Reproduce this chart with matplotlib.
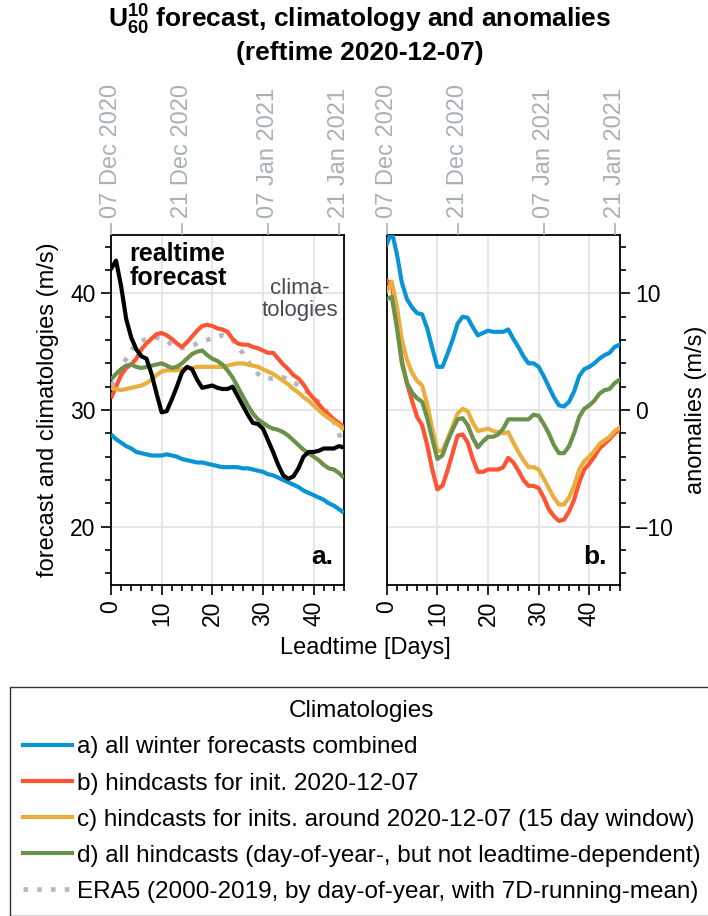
import numpy as np
import matplotlib
matplotlib.use("Agg")
import matplotlib.pyplot as plt
from matplotlib.lines import Line2D

plt.rcParams["font.family"] = ["Liberation Sans", "DejaVu Sans"]
plt.rcParams["mathtext.fontset"] = "custom"
plt.rcParams["mathtext.rm"] = "Liberation Sans"
plt.rcParams["mathtext.bf"] = "Liberation Sans:bold"

# ---- data: zonal-mean zonal wind at 60N / 10 hPa (m/s), per lead day ----
leadtime = list(range(47))

forecast = [42.1, 42.8, 40.6, 37.8, 36.2, 35.2, 34.6, 34.4, 33.1, 31.4,
            29.8, 29.9, 30.9, 32.0, 33.2, 33.7, 33.5, 32.6, 31.9, 32.0,
            32.1, 31.9, 31.8, 31.8, 32.0, 31.2, 30.4, 29.6, 28.9, 28.8,
            28.4, 27.4, 26.4, 25.3, 24.4, 24.1, 24.3, 25.0, 26.0, 26.4,
            26.4, 26.5, 26.7, 26.7, 26.7, 26.9, 26.8]

clim_winter = [27.9, 27.5, 27.2, 26.9, 26.7, 26.4, 26.3, 26.2, 26.1, 26.1,
               26.1, 26.2, 26.1, 26.0, 25.8, 25.7, 25.6, 25.5, 25.5, 25.4,
               25.3, 25.2, 25.1, 25.1, 25.1, 25.1, 25.0, 25.0, 24.9, 24.8,
               24.7, 24.5, 24.4, 24.2, 24.0, 23.8, 23.6, 23.4, 23.1, 22.9,
               22.7, 22.5, 22.3, 22.0, 21.8, 21.5, 21.2]

clim_init = [31.0, 32.0, 33.0, 33.6, 33.9, 34.4, 35.2, 35.7, 36.1, 36.5,
             36.6, 36.4, 36.1, 35.7, 35.4, 35.8, 36.3, 36.8, 37.2, 37.3,
             37.2, 37.0, 36.9, 36.7, 36.1, 35.7, 35.6, 35.6, 35.4, 35.3,
             35.1, 34.9, 34.9, 34.4, 33.9, 33.5, 33.0, 32.7, 32.2, 31.5,
             31.0, 30.5, 30.0, 29.6, 29.2, 28.9, 28.5]

clim_window = [31.9, 31.8, 31.7, 31.8, 31.9, 32.0, 32.1, 32.3, 32.6, 33.0,
               33.3, 33.4, 33.4, 33.4, 33.5, 33.6, 33.6, 33.7, 33.7, 33.7,
               33.7, 33.7, 33.7, 33.8, 33.9, 34.0, 34.0, 33.9, 33.8, 33.7,
               33.5, 33.3, 33.1, 32.8, 32.5, 32.2, 31.8, 31.5, 31.1, 30.8,
               30.4, 30.0, 29.6, 29.3, 29.0, 28.7, 28.3]

clim_doy = [32.6, 33.1, 33.5, 33.8, 33.9, 33.7, 33.6, 33.7, 33.8, 33.9,
            34.0, 33.8, 33.6, 33.7, 34.0, 34.4, 34.8, 35.0, 35.1, 34.7,
            34.4, 34.2, 33.9, 33.4, 32.8, 32.0, 31.2, 30.4, 29.7, 29.2,
            28.9, 28.6, 28.4, 28.3, 28.1, 27.8, 27.4, 27.0, 26.6, 26.3,
            26.0, 25.7, 25.3, 25.0, 24.9, 24.6, 24.2]

clim_era5 = [32.1, 32.6, 33.6, 34.4, 35.1, 35.6, 35.9, 36.1, 36.2, 36.2,
             36.1, 35.9, 35.6, 35.4, 35.3, 35.4, 35.5, 35.7, 35.9, 36.0,
             36.2, 36.3, 36.4, 36.3, 36.0, 35.4, 34.9, 34.2, 33.5, 33.1,
             32.8, 32.7, 32.7, 32.8, 32.8, 32.6, 32.4, 32.1, 31.7, 31.5,
             31.0, 30.7, 30.2, 29.6, 29.0, 28.0, 26.6]

date_ticks = [0, 14, 31, 45]
date_labels = ["07 Dec 2020", "21 Dec 2020", "07 Jan 2021", "21 Jan 2021"]

legend_labels = [
    "a) all winter forecasts combined",
    "b) hindcasts for init. 2020-12-07",
    "c) hindcasts for inits. around 2020-12-07 (15 day window)",
    "d) all hindcasts (day-of-year-, but not leadtime-dependent)",
    "ERA5 (2000-2019, by day-of-year, with 7D-running-mean)",
]

# ---- styling ----
C_BLUE = "#0a94d6"
C_RED = "#ff5433"
C_YEL = "#e9ae3c"
C_GRN = "#6b914a"
C_ERA = "#b3b8be"
C_DATE = "#a9b0b8"
LW = 3.0
FS = 17
FS_TICK = 16.5
FS_LEG = 17.5

clims = [clim_winter, clim_init, clim_window, clim_doy]
colors = [C_BLUE, C_RED, C_YEL, C_GRN]

fc = np.array(forecast)
x = np.array(leadtime)

fig = plt.figure(figsize=(7.08, 9.16), dpi=100)
W, H = 708, 916


def add_ax(left_px):
    return fig.add_axes([left_px / W, 1 - 585 / H, 233 / W, 350 / H])


ax_a = add_ax(111)
ax_b = add_ax(386.7)

# panel a: forecast and climatologies
ax_a.plot(x, clim_era5, color=C_ERA, lw=LW + 0.3, ls=(0, (1, 2)), dash_capstyle="butt", zorder=3)
for c, col in zip(clims, colors):
    ax_a.plot(x, c, color=col, lw=LW, solid_capstyle="butt", zorder=3)
ax_a.plot(x, fc, color="black", lw=LW, zorder=4)

# panel b: anomalies relative to each climatology
for c, col in zip(clims, colors):
    ax_b.plot(x, fc - np.array(c), color=col, lw=LW, zorder=3)

for ax in (ax_a, ax_b):
    ax.set_xlim(0, 46)
    ax.set_xticks([0, 10, 20, 30, 40])
    ax.set_xticks(np.arange(0, 47, 2), minor=True)
    ax.set_xticklabels(["0", "10", "20", "30", "40"], rotation=90, fontsize=FS_TICK)
    ax.grid(True, which="major", color="#e2e2e2", lw=1.2, zorder=0)
    ax.tick_params(which="major", length=7, width=1.2, direction="out", pad=4)
    ax.tick_params(which="minor", length=4, width=1.2, direction="out")
    ax.tick_params(axis="y", labelsize=FS_TICK)
    for s in ax.spines.values():
        s.set_linewidth(1.3)

    top = ax.twiny()
    top.set_xlim(0, 46)
    top.set_xticks(date_ticks)
    top.set_xticklabels(date_labels, rotation=90, color=C_DATE, fontsize=FS)
    top.tick_params(axis="x", colors=C_DATE, length=9, width=1.2, pad=3)
    for s in top.spines.values():
        s.set_visible(False)

ax_a.set_ylim(15, 45)
ax_a.set_yticks([20, 30, 40])
ax_a.set_yticks(np.arange(16, 45, 2), minor=True)
ax_a.set_ylabel("forecast and climatologies (m/s)", fontsize=FS, labelpad=8)

ax_b.set_ylim(-15, 15)
ax_b.set_yticks([-10, 0, 10])
ax_b.set_yticks(np.arange(-14, 15, 2), minor=True)
ax_b.yaxis.tick_right()
ax_b.yaxis.set_label_position("right")
ax_b.set_yticklabels(["\u221210", "0", "10"])
ax_b.set_ylabel("anomalies (m/s)", fontsize=FS, labelpad=8)

ax_a.text(3.7, 44.4, "realtime\nforecast", fontsize=18, fontweight="bold",
          ha="left", va="top", linespacing=1.0, zorder=5)
ax_a.text(37.3, 41.3, "clima-\ntologies", fontsize=16, color="#4a4c55",
          ha="center", va="top", linespacing=1.05, zorder=5)
ax_a.text(0.955, 0.045, "a.", transform=ax_a.transAxes, fontsize=19,
          fontweight="bold", ha="right", va="bottom", zorder=5)
ax_b.text(0.945, 0.045, "b.", transform=ax_b.transAxes, fontsize=19,
          fontweight="bold", ha="right", va="bottom", zorder=5)

fig.text(365 / W, 1 - 648 / H, "Leadtime [Days]", fontsize=FS, ha="center", va="center")

fig.text(360 / W, 1 - 3 / H,
         "$\\mathbf{U_{60}^{10}}$ forecast, climatology and anomalies\n(reftime 2020-12-07)",
         fontsize=19, fontweight="bold", ha="center", va="top", linespacing=1.2)

handles = [
    Line2D([], [], color=C_BLUE, lw=LW),
    Line2D([], [], color=C_RED, lw=LW),
    Line2D([], [], color=C_YEL, lw=LW),
    Line2D([], [], color=C_GRN, lw=LW),
    Line2D([], [], color=C_ERA, lw=LW + 0.3, ls=(0, (1, 2)), dash_capstyle="butt"),
]
leg = fig.legend(handles, legend_labels, title="Climatologies", loc="upper left",
                 bbox_to_anchor=(10 / W, 1 - 687 / H), fontsize=FS_LEG, title_fontsize=FS_LEG,
                 frameon=True, fancybox=False, edgecolor="#333333", framealpha=1,
                 handlelength=2.0, handletextpad=0.2, labelspacing=0.58,
                 borderpad=0.55, borderaxespad=0)
leg.get_frame().set_linewidth(1.0)

fig.savefig("out.png", dpi=100)
